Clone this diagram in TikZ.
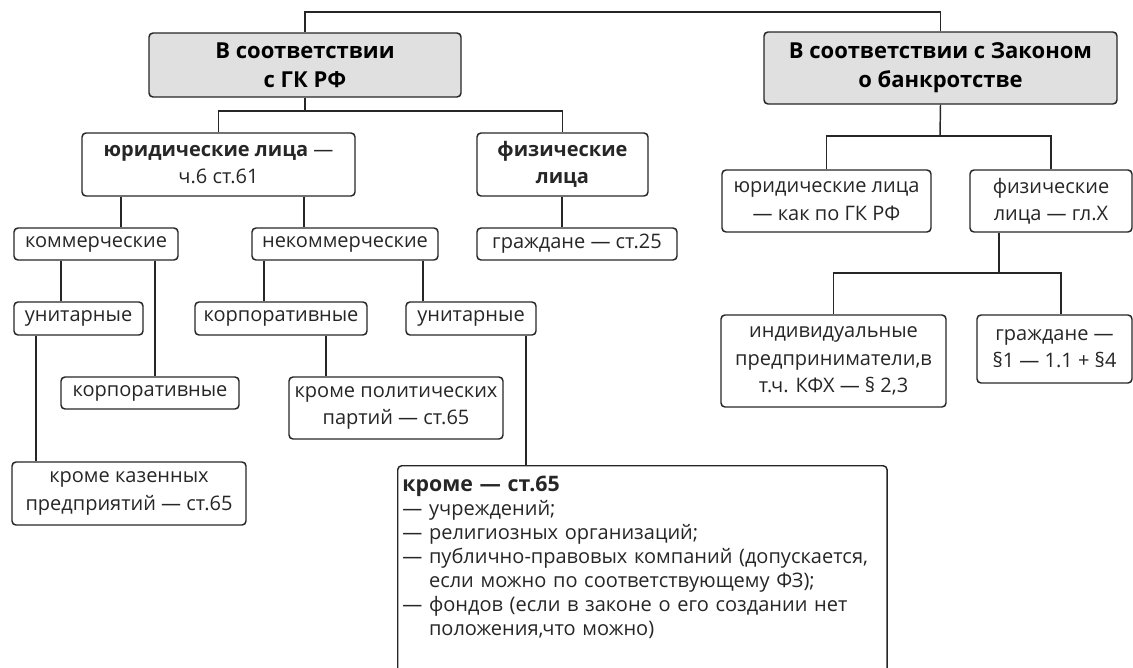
\documentclass[tikz,border=0pt]{standalone}
\usepackage{fontspec}
\setmainfont{Open Sans}

\tikzset{
  box/.style={draw=black!85, line width=1.1pt, rounded corners=3pt, align=center,
    inner sep=1pt, text=black!85, font=\fontsize{15}{20.5}\selectfont},
  head/.style={box, fill=black!12, text=black, font=\fontsize{16.5}{22}\selectfont\bfseries},
  sz/.style args={#1/#2}{minimum width=#1*0.75pt, minimum height=#2*0.75pt},
  link/.style={draw=black!85, line width=1.1pt}
}

\begin{document}
\begin{tikzpicture}[x=0.75pt, y=-0.75pt]
  \useasboundingbox (0,0) rectangle (1133,668);
  % top level
  \node[head, sz=312/64] (gk) at (305,65) {В соответствии\\с ГК РФ};
  \node[head, sz=353/72] (zak) at (940.5,68) {В соответствии с Законом\\о банкротстве};
  % under ГК РФ
  \node[box, sz=273/63] (yur) at (218.5,164.5) {\textbf{юридические лица} —\\ч.6 ст.61};
  \node[box, sz=171/63] (fiz) at (562.5,164.5) {\textbf{физические}\\\textbf{лица}};
  \node[box, sz=164/32] (kom) at (96,244) {коммерческие};
  \node[box, sz=186/32] (nekom) at (345,244) {некоммерческие};
  \node[box, sz=200/32] (grazh) at (577,244) {граждане — ст.25};
  \node[box, sz=129/33] (unitA) at (78.5,318.5) {унитарные};
  \node[box, sz=172/33] (korpB) at (281,318.5) {корпоративные};
  \node[box, sz=130/33] (unitB) at (471,318.5) {унитарные};
  \node[box, sz=178/32] (korpA) at (150,393) {корпоративные};
  \node[box, sz=214/62] (polit) at (396,408) {кроме политических\\партий — ст.65};
  \node[box, sz=234/63] (kazen) at (129,493.5) {кроме казенных\\предприятий — ст.65};
  \node[box, anchor=north west, align=left, text width=360pt, inner xsep=3.5pt,
    inner ysep=8pt, text depth=150pt, font=\fontsize{15}{18}\selectfont] (krome) at (397,465)
    {\textbf{\fontsize{16}{18}\selectfont кроме — ст.65}\\
     — учреждений;\\
     — религиозных организаций;\\
     — публично-правовых компаний (допускается,\\
     \phantom{— }если можно по соответствующему ФЗ);\\
     — фондов (если в законе о его создании нет\\
     \phantom{— }положения,что можно)};
  % under Закон о банкротстве
  \node[box, sz=209/62] (yurZ) at (826.5,201) {юридические лица\\— как по ГК РФ};
  \node[box, sz=162/62] (fizZ) at (1051,201) {физические\\лица — гл.X};
  \node[box, sz=225/92] (ip) at (833.5,361) {индивидуальные\\предприниматели,в\\т.ч. КФХ — § 2,3};
  \node[box, sz=155/68] (grazhZ) at (1054.5,349) {граждане —\\§1 — 1.1 + §4};

  \coordinate (j1) at (305,111);
  \coordinate (j2) at (940,136);
  \coordinate (j3) at (999,273);
  % connectors
  \draw[link] (gk.north) -- (gk.north |- 0,12) -| (zak.north);
  \draw[link] (gk.south) -- (j1);
  \draw[link] (yur.north) |- (j1) -| (fiz.north);
  \draw[link] (121,0 |- yur.south) -- (121,0 |- kom.north);
  \draw[link] (304,0 |- yur.south) -- (304,0 |- nekom.north);
  \draw[link] (562,0 |- fiz.south) -- (562,0 |- grazh.north);
  \draw[link] (61,0 |- kom.south) -- (61,0 |- unitA.north);
  \draw[link] (155,0 |- kom.south) -- (155,0 |- korpA.north);
  \draw[link] (264,0 |- nekom.south) -- (264,0 |- korpB.north);
  \draw[link] (423,0 |- nekom.south) -- (423,0 |- unitB.north);
  \draw[link] (36,0 |- unitA.south) -- (36,0 |- kazen.north);
  \draw[link] (326,0 |- korpB.south) -- (326,0 |- polit.north);
  \draw[link] (526,0 |- unitB.south) -- (526,0 |- krome.north);
  \draw[link] (zak.south) -- (j2);
  \draw[link] (yurZ.north) |- (j2) -| (fizZ.north);
  \draw[link] (j3 |- fizZ.south) -- (j3);
  \draw[link] (ip.north) |- (j3) -| (1061,0 |- grazhZ.north);
\end{tikzpicture}
\end{document}
